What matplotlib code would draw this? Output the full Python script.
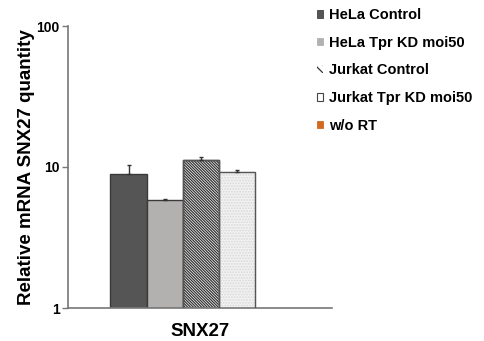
import matplotlib
matplotlib.use("Agg")
import matplotlib.pyplot as plt
from matplotlib.patches import Patch
import numpy as np

plt.rcParams['font.family'] = ['Liberation Sans', 'DejaVu Sans']
plt.rcParams['hatch.linewidth'] = 0.9

gene = ["SNX27"]
series = ["HeLa Control", "HeLa Tpr KD moi50", "Jurkat Control", "Jurkat Tpr KD moi50", "w/o RT"]
values = [8.9, 5.8, 11.2, 9.2]
err_up = [1.4, 0.1, 0.5, 0.3]

colors = ["#555555", "#b3b0b0", "#ffffff", "#f2f2f2", "#d2691e"]
hatches = [None, None, "\\" * 12, "." * 6, None]
hatch_colors = ["#333333", "#333333", "#333333", "#d8d8d8", "#333333"]

fig = plt.figure(figsize=(4.84, 3.41), dpi=100)
ax = fig.add_axes([68/484, 33/341, (332-68)/484, (308-26)/341])

w = 1.0
offsets = np.array([-1.5, -0.5, 0.5, 1.5]) * w
for i, v in enumerate(values):
    b = ax.bar(0 + offsets[i], v, width=w, color=colors[i], edgecolor="#3a3a3a",
               linewidth=1.0, hatch=hatches[i], zorder=2)
    if hatches[i]:
        b[0].set_edgecolor(hatch_colors[i])
        ax.bar(0 + offsets[i], v, width=w, color="none", edgecolor="#555555",
               linewidth=1.0, zorder=3)
    ax.errorbar(0 + offsets[i], v, yerr=[[0], [err_up[i]]], fmt="none",
                ecolor="#333333", elinewidth=1.0, capsize=1.5, zorder=4)

ax.set_yscale("log")
ax.set_ylim(1, 100)
ax.set_xlim(-3.18, 4.15)
ax.set_yticks([1, 10, 100])
ax.set_yticklabels(["1", "10", "100"], fontweight="bold", fontsize=10)
ax.yaxis.set_minor_locator(matplotlib.ticker.NullLocator())
ax.set_xticks([0.5])
ax.set_xticklabels(gene, fontweight="bold", fontsize=13.5)
ax.tick_params(axis="x", length=0, pad=11)
ax.tick_params(axis="y", length=4, width=1, color="#777777", pad=2)
for s in ["top", "right"]:
    ax.spines[s].set_visible(False)
for s in ["left", "bottom"]:
    ax.spines[s].set_color("#777777")
    ax.spines[s].set_linewidth(1.2)
ax.set_ylabel("Relative mRNA SNX27 quantity", fontweight="bold", fontsize=13.5, labelpad=1)

handles = []
for i, lab in enumerate(series):
    if i == 2:
        handles.append(Patch(facecolor="white", edgecolor="#333333", hatch="\\" * 4,
                             linewidth=0, label=lab))
    elif i == 3:
        handles.append(Patch(facecolor="white", edgecolor="#444444", linewidth=0.8, label=lab))
    else:
        handles.append(Patch(facecolor=colors[i], edgecolor="#444444" if i == 0 else colors[i],
                             linewidth=0.6, label=lab))
leg = fig.legend(handles=handles, loc="upper left", bbox_to_anchor=(0.627, 1.014),
                 frameon=False, handlelength=0.42, handleheight=0.42, handletextpad=0.4,
                 labelspacing=0.93, prop={"weight": "bold", "size": 10.5})

fig.savefig("out.png", dpi=100)
